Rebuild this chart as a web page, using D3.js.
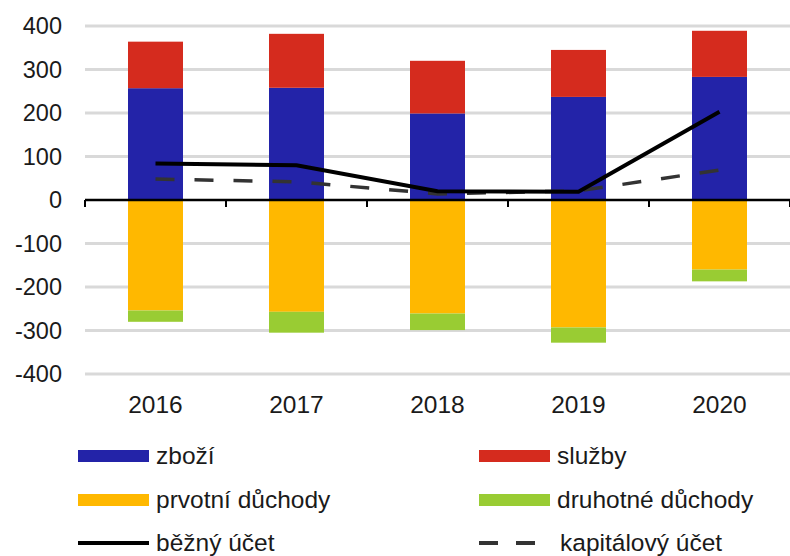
<!DOCTYPE html>
<html>
<head>
<meta charset="utf-8">
<script src="https://cdn.jsdelivr.net/npm/d3@7"></script>
<style>
  body { margin: 0; background: #fff; }
  text { font-family: "Liberation Sans", Arial, sans-serif; fill: #1a1a1a; }
</style>
</head>
<body>
<div class="home"></div>
<script>
// data
const years = ["2016", "2017", "2018", "2019", "2020"];
const zbozi = [257, 258, 199, 237, 283];
const sluzby = [107, 124, 121, 108, 106];
const prvotni = [-254, -257, -261, -293, -160];
const druhotne = [-26, -48, -38, -35, -27];
const bezny = [84, 80, 20, 19, 203];
const kapital = [48, 42, 14, 21, 69];
const yTicks = [-400, -300, -200, -100, 0, 100, 200, 300, 400];

const width = 790;
const height = 556;

const series = [
  { key: "zbozi", name: "zboží", color: "#2323a8", values: zbozi },
  { key: "sluzby", name: "služby", color: "#d52b1e", values: sluzby },
  { key: "prvotni", name: "prvotní důchody", color: "#ffb800", values: prvotni },
  { key: "druhotne", name: "druhotné důchody", color: "#99cc33", values: druhotne }
];

const rows = years.map((y, i) => {
  const r = { year: y };
  series.forEach(s => { r[s.key] = s.values[i]; });
  return r;
});

const svg = d3.select(".home").append("svg")
  .attr("width", width)
  .attr("height", height);

// scales
const x = d3.scaleBand().domain(years).range([85, 790]);
const barW = 55;
const y = d3.scaleLinear().domain([-400, 400]).range([374, 26]);

// gridlines
svg.append("g").selectAll("line")
  .data(yTicks.filter(t => t !== 0))
  .enter().append("line")
  .attr("x1", 85).attr("x2", 790)
  .attr("y1", d => y(d)).attr("y2", d => y(d))
  .style("stroke", "#d9d9d9")
  .style("stroke-width", 3);

// y labels
svg.append("g").selectAll("text")
  .data(yTicks)
  .enter().append("text")
  .attr("x", 62)
  .attr("y", d => y(d))
  .attr("dy", "0.36em")
  .style("text-anchor", "end")
  .style("font-size", "23.5px")
  .text(d => d);

// stacked bars
const stack = d3.stack()
  .keys(series.map(s => s.key))
  .offset(d3.stackOffsetDiverging);
const stacked = stack(rows);

svg.append("g").selectAll("g")
  .data(stacked)
  .enter().append("g")
  .style("fill", (d, i) => series[i].color)
  .selectAll("rect")
  .data(d => d)
  .enter().append("rect")
  .attr("x", d => x(d.data.year) + (x.bandwidth() - barW) / 2)
  .attr("width", barW)
  .attr("y", d => y(Math.max(d[0], d[1])))
  .attr("height", d => Math.abs(y(d[0]) - y(d[1])));

// zero axis with ticks at category boundaries
svg.append("line")
  .attr("x1", 85).attr("x2", 790)
  .attr("y1", y(0)).attr("y2", y(0))
  .style("stroke", "#000")
  .style("stroke-width", 2.5);

svg.append("g").selectAll("line")
  .data(years.map(d => x(d)).concat([x.range()[1]]))
  .enter().append("line")
  .attr("x1", d => d).attr("x2", d => d)
  .attr("y1", y(0)).attr("y2", y(0) + 7)
  .style("stroke", "#000")
  .style("stroke-width", 2);

// year labels
svg.append("g").selectAll("text")
  .data(years)
  .enter().append("text")
  .attr("x", d => x(d) + x.bandwidth() / 2)
  .attr("y", 413)
  .style("text-anchor", "middle")
  .style("font-size", "24.5px")
  .text(d => d);

// lines
const line = d3.line()
  .x((d, i) => x(years[i]) + x.bandwidth() / 2)
  .y(d => y(d));

svg.append("path")
  .datum(kapital)
  .attr("d", line)
  .style("fill", "none")
  .style("stroke", "#333")
  .style("stroke-width", 3.5)
  .style("stroke-dasharray", "19,20");

svg.append("path")
  .datum(bezny)
  .attr("d", line)
  .style("fill", "none")
  .style("stroke", "#000")
  .style("stroke-width", 4);

// legend
const legendItems = [
  { name: series[0].name, color: series[0].color, type: "rect", x: 78, y: 456 },
  { name: series[1].name, color: series[1].color, type: "rect", x: 479, y: 456 },
  { name: series[2].name, color: series[2].color, type: "rect", x: 78, y: 500 },
  { name: series[3].name, color: series[3].color, type: "rect", x: 479, y: 500 },
  { name: "běžný účet", color: "#000", type: "solid", x: 78, y: 543 },
  { name: "kapitálový účet", color: "#333", type: "dash", x: 479, y: 543 }
];

const lg = svg.append("g").selectAll("g")
  .data(legendItems)
  .enter().append("g")
  .attr("transform", d => "translate(" + d.x + "," + d.y + ")");

lg.filter(d => d.type === "rect").append("rect")
  .attr("x", 0).attr("y", -6)
  .attr("width", 71).attr("height", 12)
  .style("fill", d => d.color);

lg.filter(d => d.type !== "rect").append("line")
  .attr("x1", 0).attr("x2", d => d.type === "dash" ? 56 : 71)
  .attr("y1", 0).attr("y2", 0)
  .style("stroke", d => d.color)
  .style("stroke-width", 4)
  .style("stroke-dasharray", d => d.type === "dash" ? "19,18" : null);

lg.append("text")
  .attr("x", d => d.type === "dash" ? 81 : 78)
  .attr("y", 0)
  .attr("dy", "0.33em")
  .style("font-size", "24.5px")
  .text(d => d.name);
</script>
</body>
</html>
